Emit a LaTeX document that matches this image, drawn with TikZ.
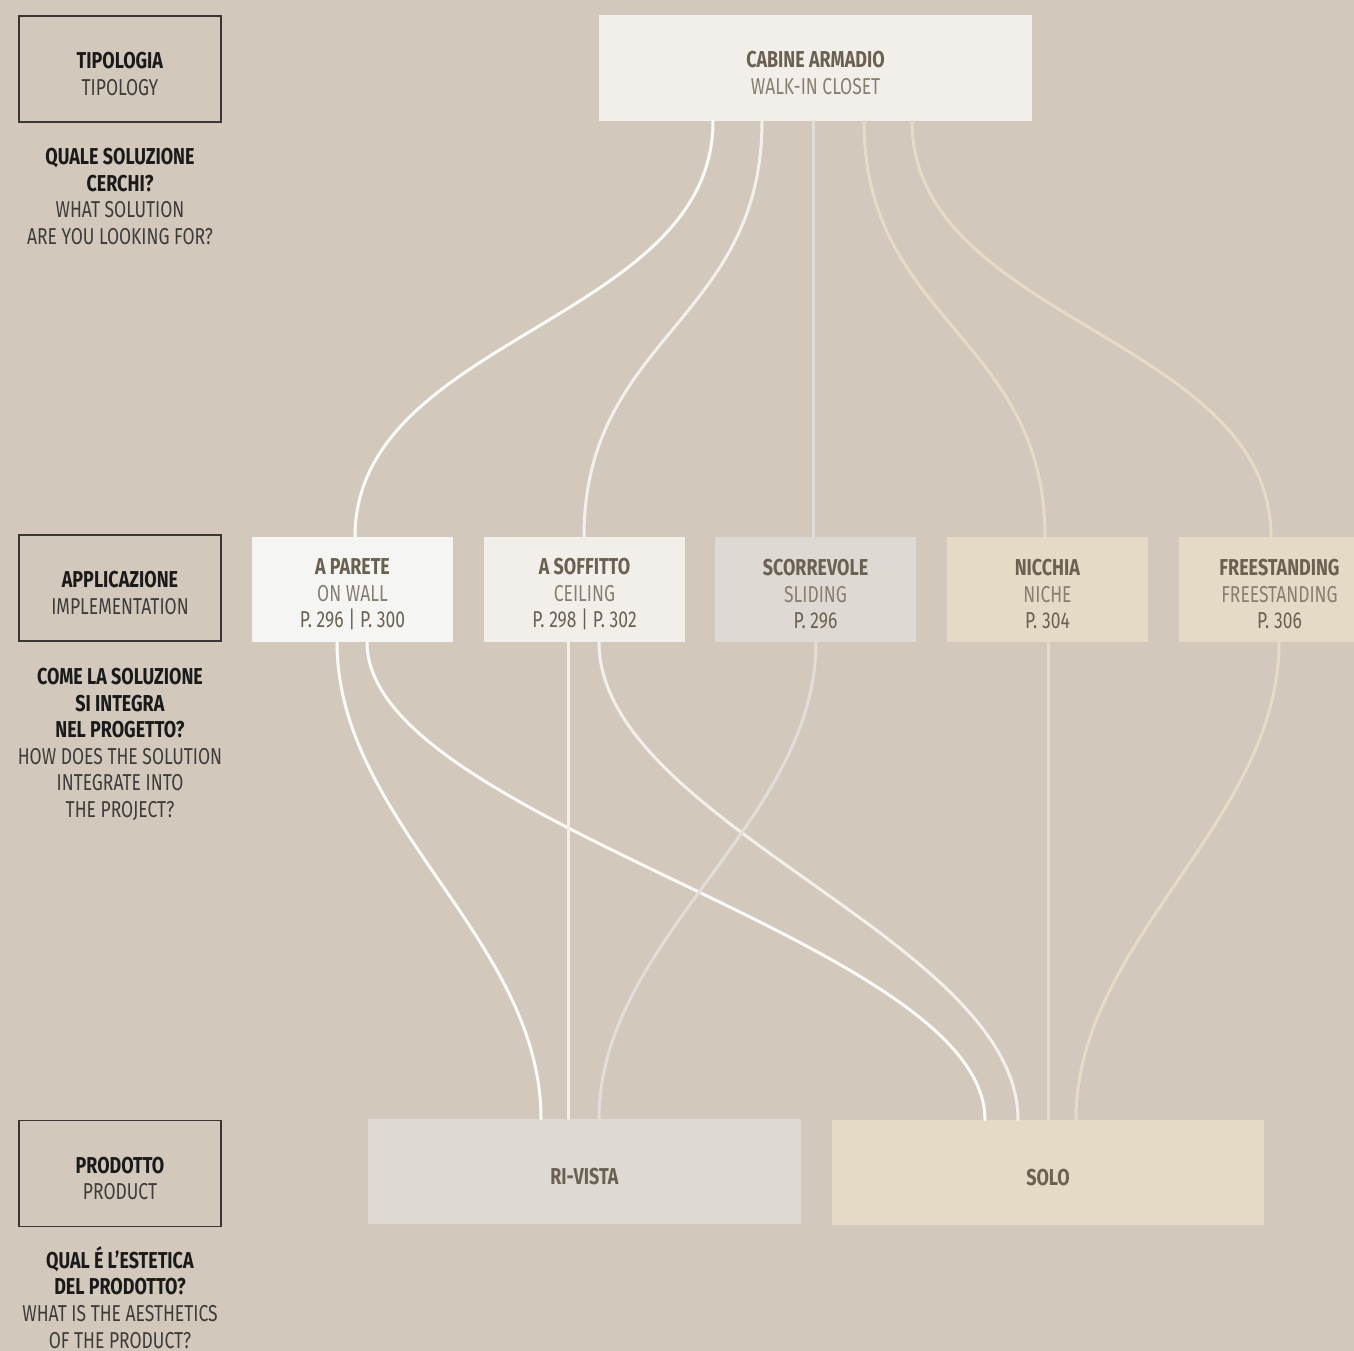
\documentclass[tikz,border=0pt]{standalone}
\usepackage{fontspec}
\setmainfont{Fira Sans}[FakeStretch=0.76, BoldFeatures={FakeStretch=0.78}]
\usetikzlibrary{positioning}

\definecolor{canvas}{RGB}{210,201,188}
\definecolor{frame}{RGB}{58,54,49}
\definecolor{ink}{RGB}{26,26,26}
\definecolor{inksoft}{RGB}{62,60,57}
\definecolor{titleink}{RGB}{107,97,82}
\definecolor{subink}{RGB}{135,126,112}
\definecolor{boxwhite}{RGB}{245,245,244}
\definecolor{boxcream}{RGB}{242,239,234}
\definecolor{boxgrey}{RGB}{222,218,211}
\definecolor{boxsand}{RGB}{228,218,198}
\definecolor{wirewhite}{RGB}{250,250,248}
\definecolor{wirecream}{RGB}{243,240,235}
\definecolor{wiregrey}{RGB}{226,222,215}
\definecolor{wiresand}{RGB}{229,219,199}

% first line of a box: bold, pushed a little down
\newcommand{\boxhead}[1]{\rule{0pt}{26pt}\textbf{#1}}

\tikzset{
    keybox/.style={
        rectangle,
        draw=frame,
        line width=1.5pt,
        minimum width=202pt,
        minimum height=106pt,
        inner sep=0pt,
        align=center,
        text=ink
    },
    question/.style={
        anchor=north,
        inner sep=0pt,
        align=center,
        text=ink
    },
    choice/.style={
        rectangle,
        minimum width=201pt,
        minimum height=105pt,
        inner sep=0pt,
        align=center,
        text=titleink
    },
    product/.style={
        choice,
        minimum width=433pt
    },
    link/.style={
        line width=3pt,
        line cap=round
    }
}

\begin{document}
\begin{tikzpicture}[
    x=1pt, y=-1pt,
    every node/.style={font=\fontsize{23}{26.6}\selectfont}
]
\useasboundingbox (0,0) rectangle (1354,1351);
\fill[canvas] (0,0) rectangle (1354,1351);
\clip (0,0) rectangle (1354,1351);

% Left column: legend
\node[keybox] (tipo) at (120,69) {\boxhead{TIPOLOGIA}\\\textcolor{inksoft}{TIPOLOGY}};
\node[question] (q1) at (120,148) {\textbf{QUALE SOLUZIONE}\\\textbf{CERCHI?}\\
    \textcolor{inksoft}{WHAT SOLUTION}\\\textcolor{inksoft}{ARE YOU LOOKING FOR?}};

\node[keybox] (appl) at (120,588) {\boxhead{APPLICAZIONE}\\\textcolor{inksoft}{IMPLEMENTATION}};
\node[question] (q2) at (120,668) {\textbf{COME LA SOLUZIONE}\\\textbf{SI INTEGRA}\\\textbf{NEL PROGETTO?}\\
    \textcolor{inksoft}{HOW DOES THE SOLUTION}\\\textcolor{inksoft}{INTEGRATE INTO}\\\textcolor{inksoft}{THE PROJECT?}};

\node[keybox] (prod) at (120,1173.5) {\boxhead{PRODOTTO}\\\textcolor{inksoft}{PRODUCT}};
\node[question] (q3) at (120,1246) {\textbf{QUAL É L’ESTETICA}\\\textbf{DEL PRODOTTO?}\\
    \textcolor{inksoft}{WHAT IS THE AESTHETICS}\\\textcolor{inksoft}{OF THE PRODUCT?}};

% Typology
\node[product, fill=boxcream, minimum height=106pt] (cabine) at (815.5,68)
    {\boxhead{CABINE ARMADIO}\\\textcolor{subink}{WALK-IN CLOSET}};

% Implementations
\node[choice, fill=boxwhite] (parete) at (352.5,589.5)
    {\boxhead{A PARETE}\\\textcolor{subink}{ON WALL}\\P. 296 | P. 300};
\node[choice, fill=boxcream] (soffitto) at (584.5,589.5)
    {\boxhead{A SOFFITTO}\\\textcolor{subink}{CEILING}\\P. 298 | P. 302};
\node[choice, fill=boxgrey] (scorrevole) at (815.5,589.5)
    {\boxhead{SCORREVOLE}\\\textcolor{subink}{SLIDING}\\P. 296};
\node[choice, fill=boxsand] (nicchia) at (1047.5,589.5)
    {\boxhead{NICCHIA}\\\textcolor{subink}{NICHE}\\P. 304};
\node[choice, fill=boxsand] (free) at (1279.5,589.5)
    {\boxhead{FREESTANDING}\\\textcolor{subink}{FREESTANDING}\\P. 306};

% Products
\node[product, fill=boxgrey] (rivista) at (584.5,1171.5) {\boxhead{RI-VISTA}};
\node[product, fill=boxsand, minimum width=432pt] (solo) at (1048,1172.5) {\boxhead{SOLO}};

% Typology -> implementation
\draw[link, wirewhite] ([xshift=-102.5pt]cabine.south) .. controls +(0,200) and +(0,-200) .. ([xshift=2.5pt]parete.north);
\draw[link, wirecream] ([xshift=-53.5pt]cabine.south) .. controls +(0,200) and +(0,-200) .. ([xshift=-0.5pt]soffitto.north);
\draw[link, wiresand] ([xshift=48.5pt]cabine.south) .. controls +(0,200) and +(0,-200) .. ([xshift=-2.5pt]nicchia.north);
\draw[link, wiresand] ([xshift=96.5pt]cabine.south) .. controls +(0,200) and +(0,-200) .. ([xshift=-8.5pt]free.north);
\draw[link, wiregrey] ([xshift=-2.5pt]cabine.south) -- ([xshift=-2.5pt]scorrevole.north);

% Implementation -> product
\draw[link, wirewhite] ([xshift=-15.5pt]parete.south) .. controls +(0,180) and +(0,-180) .. ([xshift=-43.5pt]rivista.north);
\draw[link, wirewhite] ([xshift=14.5pt]parete.south) .. controls +(0,180) and +(0,-180) .. ([xshift=-63pt]solo.north);
\draw[link, wirecream] ([xshift=-16.5pt]soffitto.south) -- ([xshift=-16.5pt]rivista.north);
\draw[link, wirecream] ([xshift=14.5pt]soffitto.south) .. controls +(0,180) and +(0,-180) .. ([xshift=-30pt]solo.north);
\draw[link, wiresand] ([xshift=0.5pt]nicchia.south) -- ([xshift=0pt]solo.north);
\draw[link, wiresand] ([xshift=-0.5pt]free.south) .. controls +(0,180) and +(0,-180) .. ([xshift=28pt]solo.north);
\draw[link, wiregrey] ([xshift=0.5pt]scorrevole.south) .. controls +(0,180) and +(0,-180) .. ([xshift=14.5pt]rivista.north);

\end{tikzpicture}
\end{document}
